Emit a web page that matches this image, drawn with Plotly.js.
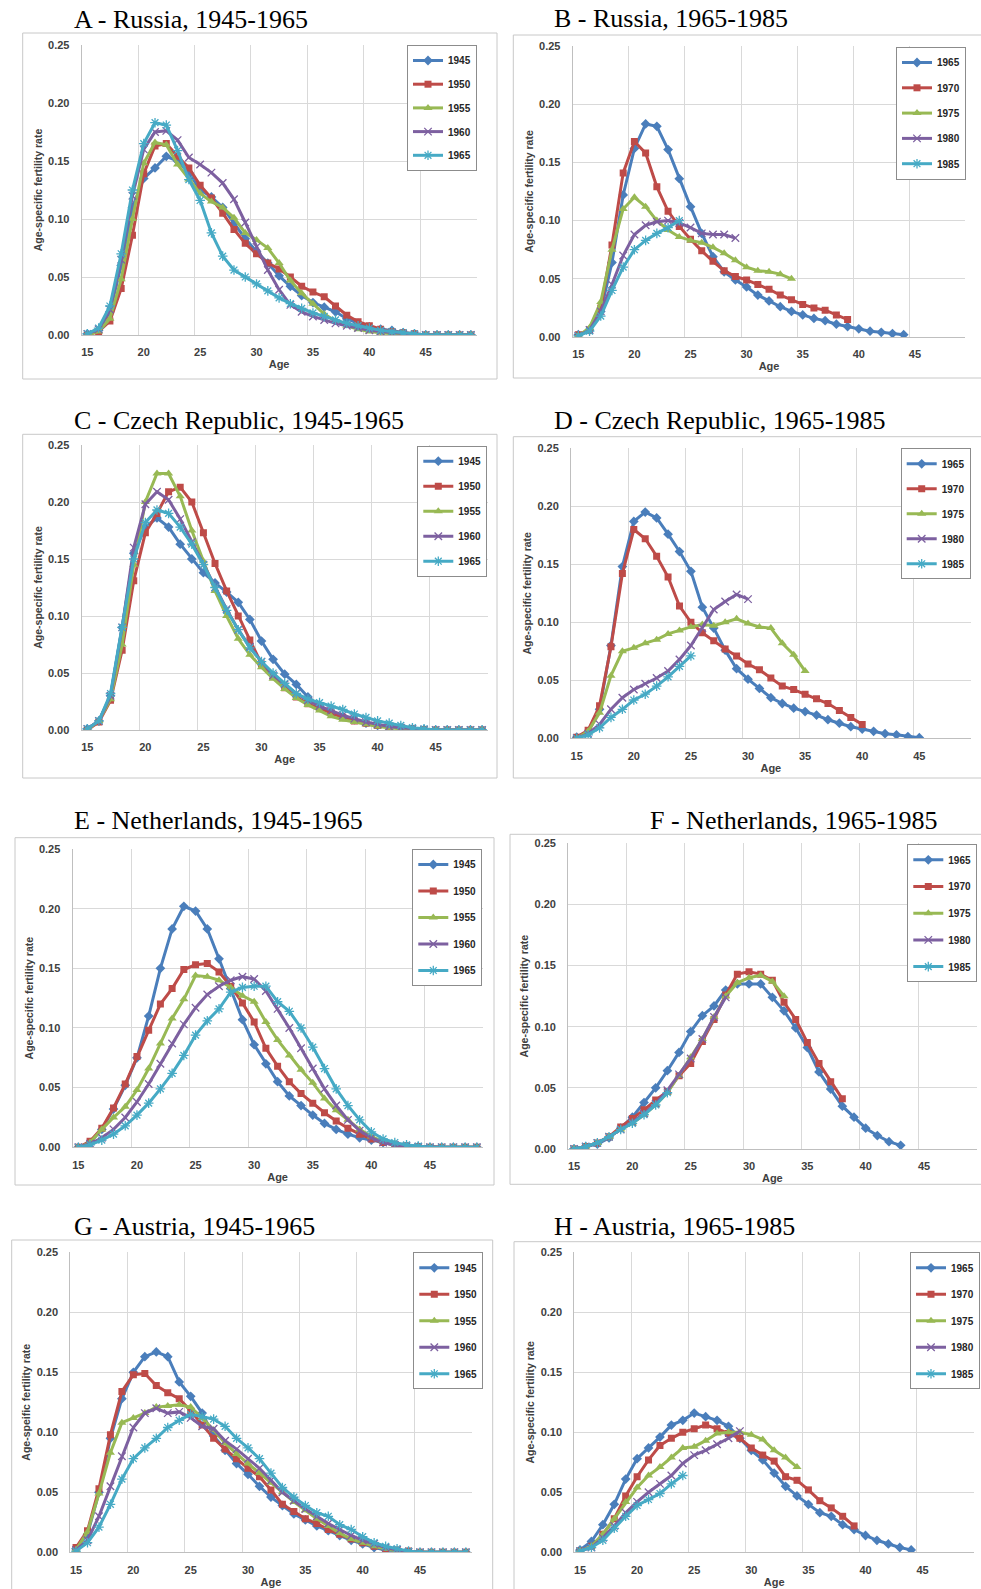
<!DOCTYPE html>
<html>
<head>
<meta charset="utf-8">
<script src="https://cdn.plot.ly/plotly-3.0.1.min.js"></script>
<style>
html,body{margin:0;padding:0;background:#ffffff;}
#chart{width:981px;height:1589px;}
</style>
</head>
<body>
<div id="chart"></div>
<script>
// ---------- data ----------
const ages = [15,16,17,18,19,20,21,22,23,24,25,26,27,28,29,30,31,32,33,34,35,36,37,38,39,40,41,42,43,44,45,46,47,48,49];
const xTickVals = [15,20,25,30,35,40,45];
const yearsEarly = ['1945','1950','1955','1960','1965'];
const yearsLate  = ['1965','1970','1975','1980','1985'];
const panelTitles = ['A - Russia, 1945-1965','B - Russia, 1965-1985','C - Czech Republic, 1945-1965','D - Czech Republic, 1965-1985',
                     'E - Netherlands, 1945-1965','F - Netherlands, 1965-1985','G - Austria, 1945-1965','H - Austria, 1965-1985'];
const yTitles = ['Age-specific fertility rate','Age-specific fertility rate','Age-specific fertility rate','Age-specific fertility rate',
                 'Age-specific fertility rate','Age-specific fertility rate','Age-speific fertility rate','Age-specific fertility rate'];
const xTitle = 'Age';

// A - Russia 1945-1965
const A_1945 = [0.001,0.004,0.02,0.06,0.11,0.135,0.144,0.154,0.15,0.14,0.125,0.119,0.11,0.096,0.083,0.072,0.062,0.051,0.042,0.034,0.028,0.024,0.02,0.014,0.01,0.007,0.005,0.004,0.002,0.001,0,0,0,0,0];
const A_1950 = [0,0.003,0.012,0.04,0.086,0.139,0.163,0.165,0.154,0.144,0.129,0.118,0.105,0.091,0.079,0.07,0.062,0.057,0.05,0.042,0.037,0.033,0.025,0.017,0.0115,0.008,0.005,0.003,0.002,0.001,0,0,0,0,0];
const A_1955 = [0,0.003,0.014,0.048,0.1,0.148,0.166,0.164,0.147,0.134,0.122,0.115,0.11,0.101,0.088,0.082,0.075,0.062,0.047,0.036,0.027,0.018,0.012,0.008,0.005,0.003,0.002,0.001,0.001,0,0,0,0,0,0];
const A_1960 = [0.001,0.005,0.022,0.065,0.12,0.16,0.175,0.176,0.168,0.153,0.147,0.14,0.131,0.117,0.097,0.076,0.056,0.039,0.026,0.02,0.016,0.013,0.01,0.008,0.006,0.004,0.003,0.002,0.001,0.0005,0,0,0,0,0];
const A_1965 = [0.001,0.006,0.025,0.07,0.125,0.165,0.183,0.181,0.159,0.134,0.116,0.088,0.068,0.056,0.05,0.044,0.038,0.032,0.027,0.023,0.019,0.016,0.013,0.01,0.008,0.006,0.004,0.003,0.002,0.001,0,0,0,0,0];
// B - Russia 1965-1985
const B_1965 = [0.002,0.006,0.022,0.064,0.122,0.162,0.183,0.181,0.161,0.136,0.112,0.089,0.069,0.056,0.049,0.043,0.036,0.031,0.026,0.022,0.019,0.016,0.014,0.011,0.009,0.007,0.005,0.004,0.003,0.002];
const B_1970 = [0.002,0.006,0.025,0.079,0.141,0.168,0.158,0.129,0.108,0.095,0.084,0.074,0.065,0.057,0.052,0.049,0.045,0.041,0.036,0.032,0.028,0.025,0.023,0.019,0.015];
const B_1975 = [0.001,0.008,0.03,0.075,0.11,0.12,0.112,0.1,0.092,0.086,0.083,0.081,0.077,0.072,0.066,0.06,0.057,0.056,0.054,0.05];
const B_1980 = [0.001,0.006,0.022,0.045,0.07,0.088,0.096,0.099,0.1,0.098,0.094,0.089,0.088,0.088,0.085];
const B_1985 = [0.001,0.005,0.018,0.04,0.06,0.075,0.083,0.089,0.094,0.1];
// C - Czech Republic 1945-1965
const C_1945 = [0.001,0.008,0.03,0.09,0.155,0.178,0.186,0.178,0.163,0.15,0.138,0.129,0.121,0.112,0.097,0.078,0.062,0.049,0.04,0.029,0.021,0.016,0.012,0.009,0.006,0.004,0.003,0.002,0.001,0.0005,0,0,0,0,0];
const C_1950 = [0,0.007,0.026,0.07,0.131,0.173,0.19,0.209,0.213,0.2,0.173,0.146,0.122,0.1,0.079,0.058,0.047,0.037,0.029,0.023,0.019,0.015,0.011,0.008,0.006,0.004,0.003,0.002,0.001,0.0005,0,0,0,0,0];
const C_1955 = [0,0.008,0.027,0.075,0.145,0.2,0.225,0.225,0.205,0.175,0.148,0.122,0.1,0.08,0.066,0.055,0.045,0.036,0.028,0.022,0.017,0.012,0.009,0.007,0.005,0.003,0.002,0.001,0,0,0,0,0,0,0];
const C_1960 = [0.001,0.008,0.03,0.09,0.16,0.198,0.209,0.202,0.185,0.165,0.145,0.125,0.106,0.088,0.073,0.06,0.048,0.04,0.032,0.026,0.021,0.017,0.013,0.01,0.007,0.005,0.003,0.002,0.001,0.0005,0,0,0,0,0];
const C_1965 = [0.001,0.008,0.032,0.09,0.15,0.182,0.193,0.19,0.178,0.163,0.145,0.125,0.105,0.088,0.072,0.06,0.05,0.041,0.032,0.027,0.024,0.021,0.018,0.014,0.011,0.008,0.006,0.004,0.002,0.001,0,0,0,0,0];
// D - Czech Republic 1965-1985
const D_1965 = [0.001,0.005,0.025,0.08,0.148,0.187,0.195,0.19,0.176,0.161,0.144,0.113,0.095,0.076,0.06,0.051,0.043,0.035,0.03,0.026,0.023,0.02,0.016,0.013,0.01,0.008,0.006,0.004,0.003,0.0015,0.0005];
const D_1970 = [0.001,0.007,0.028,0.079,0.142,0.18,0.172,0.157,0.139,0.114,0.1,0.091,0.084,0.077,0.071,0.064,0.059,0.052,0.045,0.042,0.038,0.034,0.03,0.024,0.018,0.012];
const D_1975 = [0,0.006,0.022,0.054,0.075,0.078,0.082,0.085,0.09,0.093,0.096,0.098,0.097,0.1,0.103,0.099,0.096,0.095,0.082,0.072,0.058];
const D_1980 = [0,0.004,0.012,0.025,0.035,0.042,0.047,0.052,0.058,0.068,0.08,0.095,0.111,0.118,0.124,0.12];
const D_1985 = [0,0.003,0.009,0.018,0.025,0.033,0.038,0.045,0.053,0.062,0.071];
// E - Netherlands 1945-1965
const E_1945 = [0,0.004,0.015,0.032,0.052,0.075,0.11,0.15,0.183,0.202,0.198,0.183,0.158,0.133,0.107,0.086,0.07,0.055,0.043,0.035,0.027,0.02,0.015,0.011,0.008,0.006,0.004,0.002,0.001,0.0005,0,0,0,0,0];
const E_1950 = [0,0.005,0.016,0.033,0.053,0.076,0.098,0.12,0.133,0.149,0.153,0.154,0.147,0.135,0.121,0.105,0.083,0.068,0.055,0.045,0.037,0.029,0.022,0.016,0.011,0.007,0.004,0.002,0.001,0.0005,0,0,0,0,0];
const E_1955 = [0,0.004,0.015,0.025,0.034,0.048,0.066,0.087,0.108,0.124,0.144,0.143,0.14,0.134,0.127,0.122,0.105,0.09,0.077,0.065,0.054,0.041,0.031,0.023,0.015,0.009,0.005,0.003,0.001,0,0,0,0,0,0];
const E_1960 = [0,0.003,0.008,0.015,0.025,0.038,0.053,0.07,0.087,0.103,0.117,0.128,0.135,0.14,0.143,0.141,0.131,0.116,0.1,0.083,0.066,0.049,0.035,0.023,0.014,0.008,0.004,0.002,0.001,0.0005,0,0,0,0,0];
const E_1965 = [0,0.002,0.006,0.011,0.018,0.027,0.037,0.049,0.062,0.077,0.094,0.106,0.116,0.13,0.134,0.135,0.135,0.122,0.114,0.1,0.084,0.066,0.049,0.035,0.023,0.013,0.007,0.004,0.002,0.001,0,0,0,0,0];
// F - Netherlands 1965-1985
const F_1965 = [0,0.002,0.004,0.009,0.017,0.026,0.038,0.05,0.064,0.079,0.096,0.109,0.117,0.13,0.135,0.135,0.135,0.124,0.113,0.099,0.083,0.063,0.049,0.035,0.026,0.017,0.011,0.006,0.003];
const F_1970 = [0,0.002,0.005,0.01,0.018,0.025,0.032,0.04,0.047,0.06,0.07,0.088,0.106,0.126,0.143,0.145,0.143,0.138,0.12,0.106,0.087,0.07,0.055,0.041];
const F_1975 = [0,0.002,0.005,0.01,0.016,0.021,0.028,0.036,0.046,0.06,0.075,0.09,0.108,0.125,0.136,0.14,0.142,0.137,0.125];
const F_1980 = [0,0.002,0.005,0.01,0.016,0.022,0.029,0.037,0.048,0.061,0.074,0.09,0.108,0.124];
const F_1985 = [0,0.002,0.005,0.01,0.016,0.021,0.028,0.036,0.046];
// G - Austria 1945-1965
const G_1945 = [0.003,0.015,0.05,0.095,0.128,0.15,0.163,0.167,0.163,0.142,0.13,0.116,0.097,0.085,0.074,0.065,0.055,0.046,0.039,0.032,0.027,0.022,0.018,0.014,0.01,0.007,0.004,0.002,0.001,0.0005,0,0,0,0,0];
const G_1950 = [0.004,0.018,0.053,0.098,0.134,0.148,0.149,0.139,0.133,0.128,0.118,0.106,0.095,0.086,0.078,0.07,0.063,0.052,0.04,0.034,0.028,0.024,0.019,0.015,0.011,0.008,0.005,0.003,0.002,0.001,0,0,0,0,0];
const G_1955 = [0.002,0.017,0.049,0.083,0.108,0.112,0.116,0.121,0.122,0.123,0.121,0.112,0.102,0.091,0.082,0.074,0.066,0.058,0.05,0.042,0.035,0.028,0.022,0.016,0.011,0.008,0.005,0.003,0.001,0,0,0,0,0,0];
const G_1960 = [0.002,0.01,0.03,0.055,0.08,0.104,0.116,0.12,0.116,0.117,0.112,0.105,0.103,0.093,0.086,0.078,0.07,0.06,0.05,0.043,0.036,0.03,0.024,0.019,0.014,0.01,0.007,0.004,0.002,0.0005,0,0,0,0,0];
const G_1965 = [0.001,0.008,0.021,0.04,0.061,0.078,0.087,0.095,0.104,0.11,0.115,0.113,0.111,0.105,0.095,0.087,0.078,0.066,0.054,0.046,0.039,0.033,0.03,0.023,0.019,0.013,0.008,0.005,0.003,0.001,0,0,0,0,0];
// H - Austria 1965-1985
const H_1965 = [0.002,0.009,0.023,0.04,0.061,0.078,0.087,0.096,0.106,0.11,0.116,0.113,0.11,0.105,0.095,0.085,0.077,0.066,0.055,0.047,0.04,0.033,0.03,0.023,0.019,0.014,0.01,0.007,0.004,0.002];
const H_1970 = [0.001,0.005,0.015,0.028,0.047,0.063,0.077,0.089,0.095,0.1,0.103,0.106,0.103,0.099,0.095,0.087,0.081,0.076,0.063,0.06,0.052,0.043,0.037,0.03,0.022];
const H_1975 = [0.001,0.005,0.015,0.028,0.042,0.054,0.064,0.071,0.079,0.087,0.088,0.093,0.099,0.1,0.1,0.098,0.094,0.085,0.079,0.071];
const H_1980 = [0.001,0.004,0.012,0.022,0.033,0.042,0.05,0.057,0.064,0.074,0.081,0.085,0.09,0.095,0.101];
const H_1985 = [0.001,0.004,0.01,0.02,0.03,0.039,0.044,0.049,0.057,0.064];

const panelSeries = [
  [A_1945,A_1950,A_1955,A_1960,A_1965],
  [B_1965,B_1970,B_1975,B_1980,B_1985],
  [C_1945,C_1950,C_1955,C_1960,C_1965],
  [D_1965,D_1970,D_1975,D_1980,D_1985],
  [E_1945,E_1950,E_1955,E_1960,E_1965],
  [F_1965,F_1970,F_1975,F_1980,F_1985],
  [G_1945,G_1950,G_1955,G_1960,G_1965],
  [H_1965,H_1970,H_1975,H_1980,H_1985]
];
const panelYears = [yearsEarly,yearsLate,yearsEarly,yearsLate,yearsEarly,yearsLate,yearsEarly,yearsLate];

// ---------- styling / layout (pixel geometry) ----------
const W = 981, H = 1589;
const geom = [
  {plot:[81.7,45,476.5,335],   frame:[22.7,33,497,379],      title:[72,20],       leg:[477,45,4.7]},
  {plot:[572.7,46,965.4,337],  frame:[513.3,35,990,378],     title:[551.7,18],    leg:[966,47,6.3]},
  {plot:[81.5,445,487.9,730],  frame:[22.7,434.3,497,778],   title:[71.7,420],    leg:[487.3,445.7,6]},
  {plot:[571,448.3,970.7,738.3], frame:[513.3,436.7,990,778], title:[551.7,420],  leg:[970.7,448.3,6]},
  {plot:[72.5,849,482.7,1147.3], frame:[15,837.7,494,1185],  title:[71.7,820],    leg:[482.3,849,7.5]},
  {plot:[568.2,843.3,976.5,1149], frame:[510,834.3,990,1184.3], title:[647.7,820], leg:[977.3,844.3,7.7]},
  {plot:[70.3,1252.3,471.6,1552.3], frame:[11.7,1240,492.7,1600], title:[71.7,1226.7], leg:[483.3,1252.3,7.5]},
  {plot:[574.3,1252.3,974,1552.3], frame:[514,1241.7,990,1600], title:[551.7,1226.7], leg:[980,1252.3,7.5]}
];
const colors = ['#4A7EBB','#BE4B48','#98B954','#7D60A0','#46AAC5'];
const symbols = ['diamond','square','triangle-up','x-thin-open','asterisk-open'];
const msizes = [7.5,7,8,7.5,8];
const fontSans = '"Liberation Sans", Arial, sans-serif';
const px = v => v / W;
const py = v => 1 - v / H;

const traces = [];
const layout = {
  width: W, height: H,
  margin: {l:0, r:0, t:0, b:0},
  paper_bgcolor: '#ffffff',
  plot_bgcolor: '#ffffff',
  showlegend: true,
  annotations: [],
  shapes: []
};

geom.forEach((g, i) => {
  const n = i + 1;
  const xa = 'xaxis' + (n === 1 ? '' : n);
  const ya = 'yaxis' + (n === 1 ? '' : n);
  const xr = 'x' + (n === 1 ? '' : n);
  const yr = 'y' + (n === 1 ? '' : n);
  const lg = 'legend' + (n === 1 ? '' : n);

  layout[xa] = {
    domain: [px(g.plot[0]), px(g.plot[2])],
    anchor: yr,
    range: [14.5, 49.5],
    tickmode: 'array', tickvals: xTickVals, ticktext: xTickVals.map(String),
    showgrid: false, zeroline: false,
    showline: true, linecolor: '#bfbfbf', linewidth: 1,
    ticks: '', ticklabelstandoff: 7,
    tickfont: {family: fontSans, size: 11, color: '#404040', weight: 'bold'},
    minor: {tickmode: 'linear', tick0: 14.5, dtick: 5, showgrid: true, gridcolor: '#d9d9d9', gridwidth: 1, ticks: ''},
    title: {text: xTitle, font: {family: fontSans, size: 11, color: '#404040', weight: 'bold'}, standoff: 3},
    fixedrange: true
  };
  layout[ya] = {
    domain: [py(g.plot[3]), py(g.plot[1])],
    anchor: xr,
    range: [0, 0.25],
    tickmode: 'linear', tick0: 0, dtick: 0.05, tickformat: '.2f',
    showgrid: true, gridcolor: '#d9d9d9', gridwidth: 1, zeroline: false,
    showline: true, linecolor: '#bfbfbf', linewidth: 1,
    ticks: '', ticklabelstandoff: 9,
    tickfont: {family: fontSans, size: 11, color: '#404040', weight: 'bold'},
    title: {text: yTitles[i], font: {family: fontSans, size: 10.5, color: '#404040', weight: 'bold'}, standoff: 3},
    fixedrange: true
  };
  layout[lg] = {
    x: px(g.leg[0]), xanchor: 'right',
    y: py(g.leg[1]), yanchor: 'top',
    bgcolor: '#ffffff', bordercolor: '#8c8c8c', borderwidth: 1,
    font: {family: fontSans, size: 10, color: '#262626', weight: 'bold'},
    tracegroupgap: g.leg[2],
    itemwidth: 30
  };
  layout.annotations.push({
    xref: 'paper', yref: 'paper', x: px(g.title[0]), y: py(g.title[1]),
    xanchor: 'left', yanchor: 'middle', showarrow: false,
    text: panelTitles[i],
    font: {family: '"Liberation Serif", "Times New Roman", serif', size: 26, color: '#000000'}
  });
  layout.shapes.push({
    type: 'rect', xref: 'paper', yref: 'paper', layer: 'below',
    x0: px(g.frame[0]), x1: px(g.frame[2]), y0: py(g.frame[3]), y1: py(g.frame[1]),
    line: {color: '#c8c8c8', width: 1}, fillcolor: 'rgba(0,0,0,0)'
  });

  panelSeries[i].forEach((ys, k) => {
    traces.push({
      type: 'scatter', mode: 'lines+markers',
      x: ages, y: ys,
      name: panelYears[i][k],
      xaxis: xr, yaxis: yr, legend: lg,
      legendgroup: 'p' + n + '_' + panelYears[i][k],
      line: {color: colors[k], width: 3},
      marker: {symbol: symbols[k], size: msizes[k], color: colors[k], line: {color: colors[k], width: (k >= 3 ? 1.3 : 0)}},
      hoverinfo: 'x+y+name'
    });
  });
});

Plotly.newPlot('chart', traces, layout, {displayModeBar: false, staticPlot: true});
</script>
</body>
</html>
